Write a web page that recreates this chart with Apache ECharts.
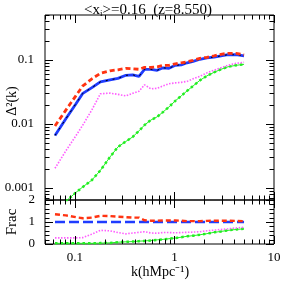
<!DOCTYPE html>
<html><head><meta charset="utf-8">
<script src="https://cdn.jsdelivr.net/npm/echarts@6/dist/echarts.min.js"></script>
<style>html,body{margin:0;padding:0;background:#fff}#c{width:289px;height:289px}</style>
</head><body><div id="c"></div>
<script>
const kVals = [0.063,0.081,0.102,0.12,0.148,0.18,0.225,0.27,0.325,0.38,0.44,0.5,0.58,0.67,0.77,0.88,1.02,1.17,1.34,1.54,1.8,2.12,2.5,2.93,3.45,4.15,5.0];
const blueP = [0.0066,0.0120,0.0205,0.030,0.0368,0.0453,0.0487,0.0514,0.0573,0.0583,0.0552,0.0711,0.0711,0.0686,0.075,0.0736,0.082,0.0835,0.0898,0.0948,0.102,0.107,0.110,0.1155,0.120,0.120,0.1155];
const redP = [0.0093,0.0164,0.0274,0.0392,0.0505,0.0615,0.0673,0.0698,0.0736,0.0723,0.0711,0.0763,0.0763,0.0778,0.082,0.082,0.0866,0.0898,0.093,0.098,0.1055,0.1094,0.1155,0.122,0.1264,0.1264,0.1197];
const magP = [0.00203,0.0038,0.0065,0.0096,0.0166,0.0295,0.0302,0.0289,0.0274,0.030,0.0323,0.0407,0.0352,0.0359,0.0392,0.0422,0.0437,0.0445,0.0461,0.0505,0.0552,0.0626,0.0686,0.075,0.082,0.0882,0.0914];
const greenP = [0.0002,0.00062,0.00085,0.00104,0.00133,0.00188,0.00305,0.00436,0.00533,0.00626,0.00778,0.0096,0.0115,0.0129,0.0154,0.0184,0.0229,0.0274,0.0328,0.0392,0.0478,0.0562,0.0638,0.0711,0.0778,0.082,0.085];
const blueF = [1,1,1,1,1,1,1,1,1,1,1,1,1,1,1,1,1,1,1,1,1,1,1,1,1,1,1];
const redF = [1.35,1.3,1.22,1.17,1.2,1.28,1.27,1.24,1.22,1.2,1.2,1.08,1.06,1.06,1.07,1.07,1.07,1.06,1.04,1.04,1.04,1.05,1.06,1.06,1.06,1.05,1.04];
const magF = [0.28,0.28,0.28,0.29,0.45,0.62,0.6,0.52,0.46,0.5,0.53,0.56,0.5,0.49,0.52,0.52,0.51,0.52,0.53,0.54,0.56,0.6,0.63,0.66,0.69,0.73,0.76];
const greenF = [0.03,0.03,0.03,0.03,0.03,0.04,0.05,0.08,0.1,0.11,0.13,0.14,0.16,0.19,0.21,0.24,0.27,0.31,0.35,0.38,0.42,0.47,0.53,0.57,0.62,0.66,0.69];

const X_MIN = 0.05, X_MAX = 10, Y_MIN = 0.00065, Y_MAX = 0.5;
const FONT = 'Liberation Serif';
const RED = '#ff3311', BLUE = '#1f3cff', MAG = '#ff5cff', GREEN = '#22ee22';

function pairs(xs, ys){ return xs.map((x,i)=>[x, ys[i]]); }
function isPow10(v){ const l = Math.log10(v); return Math.abs(l - Math.round(l)) < 1e-6; }
function fmt(v){ return isPow10(v) ? String(Number(v.toPrecision(6))) : ''; }

function logTicks(lo, hi){
  const out = [];
  for (let d = -5; d <= 2; d++) for (let m = 1; m <= 9; m++) {
    const v = Number((m * Math.pow(10, d)).toPrecision(6));
    if (v >= lo * 0.9999 && v <= hi * 1.0001) out.push([v, m === 1 ? 1 : 0]);
  }
  return out;
}
const xTicks = logTicks(X_MIN, X_MAX);
const yTicksMain = logTicks(Y_MIN, Y_MAX);
const mainTickData = xTicks.map(t => [t[0], Y_MIN, 0, t[1]]).concat(yTicksMain.map(t => [X_MIN, t[0], 1, t[1]]));
const fracTickData = xTicks.map(t => [t[0], 1, 0, t[1]]);
for (let i = 0; i <= 10; i++) { const v = i * 0.2; fracTickData.push([X_MIN, v, 1, (i % 5 === 0) ? 1 : 0]); }

function tickRender(params, api){
  const cs = params.coordSys;
  const isY = api.value(2) === 1;
  const major = api.value(3) === 1;
  const len = major ? 8 : 4.5;
  const p = api.coord([api.value(0), api.value(1)]);
  const st = {stroke:'#000', lineWidth:1};
  if (!isY) {
    const x = Math.round(p[0]) + 0.5, yb = cs.y + cs.height, yt = cs.y;
    return {type:'group', children:[
      {type:'line', shape:{x1:x, y1:yb, x2:x, y2:yb - len}, style:st},
      {type:'line', shape:{x1:x, y1:yt, x2:x, y2:yt + len}, style:st}
    ]};
  } else {
    const y = Math.round(p[1]) + 0.5, xl = cs.x, xr = cs.x + cs.width;
    return {type:'group', children:[
      {type:'line', shape:{x1:xl, y1:y, x2:xl + len, y2:y}, style:st},
      {type:'line', shape:{x1:xr, y1:y, x2:xr - len, y2:y}, style:st}
    ]};
  }
}

const chart = echarts.init(document.getElementById('c'), null, {renderer:'canvas'});
const lblStyle = {fontFamily: FONT, fontSize: 13, color: '#000'};
const option = {
  animation: false,
  backgroundColor: '#fff',
  grid: [
    {left: 45, right: 15, top: 15, height: 185, show: true, borderColor: '#000', borderWidth: 1, backgroundColor: 'transparent'},
    {left: 45, right: 15, top: 200, height: 44, show: true, borderColor: '#000', borderWidth: 1, backgroundColor: 'transparent'}
  ],
  xAxis: [
    {type:'log', logBase:10, min:X_MIN, max:X_MAX, gridIndex:0, axisLine:{show:false}, axisTick:{show:false}, splitLine:{show:false}, axisLabel:{show:false}},
    {type:'log', logBase:10, min:X_MIN, max:X_MAX, gridIndex:1, axisLine:{show:false}, axisTick:{show:false}, splitLine:{show:false},
     axisLabel:Object.assign({show:true, margin:7, formatter: fmt, showMinLabel:false, hideOverlap:false}, lblStyle)}
  ],
  yAxis: [
    {type:'log', logBase:10, min:Y_MIN, max:Y_MAX, gridIndex:0, axisLine:{show:false}, axisTick:{show:false}, splitLine:{show:false},
     axisLabel:Object.assign({show:true, margin:11, formatter: fmt, showMinLabel:false, showMaxLabel:false}, lblStyle)},
    {type:'value', min:0, max:2, interval:1, gridIndex:1, axisLine:{show:false}, axisTick:{show:false}, splitLine:{show:false},
     axisLabel:Object.assign({show:true, margin:10}, lblStyle)}
  ],
  title: {
    text: '<x{s|i}>=0.16  (z=8.550)', left: 143, textAlign: 'center', top: -3,
    textStyle: {fontFamily: FONT, fontSize: 15, fontWeight: 'normal', color: '#000',
      rich: {s: {fontFamily: FONT, fontSize: 9, verticalAlign: 'bottom', padding:[7,0,0,0]}}}
  },
  series: [
    {type:'custom', xAxisIndex:0, yAxisIndex:0, data: mainTickData, renderItem: tickRender, clip:false, silent:true, z:5},
    {type:'custom', xAxisIndex:1, yAxisIndex:1, data: fracTickData, renderItem: tickRender, clip:false, silent:true, z:5},
    {type:'line', xAxisIndex:0, yAxisIndex:0, data: pairs(kVals, greenP), symbol:'none', clip:true, lineStyle:{color:GREEN, width:1}, z:2},
    {type:'line', xAxisIndex:0, yAxisIndex:0, data: pairs(kVals, greenP), symbol:'none', clip:true, lineStyle:{color:GREEN, width:2.5, type:[2.5,3]}, z:2},
    {type:'line', xAxisIndex:0, yAxisIndex:0, data: pairs(kVals, magP), symbol:'none', clip:true, lineStyle:{color:MAG, width:1.6, type:[1.5,1.5]}, z:2},
    {type:'line', xAxisIndex:0, yAxisIndex:0, data: pairs(kVals, blueP), symbol:'none', clip:true, lineStyle:{color:BLUE, width:2.8}, z:3},
    {type:'line', xAxisIndex:0, yAxisIndex:0, data: pairs(kVals, blueP), symbol:'none', clip:true, lineStyle:{color:'#000', width:1, type:[2,5]}, z:3},
    {type:'line', xAxisIndex:0, yAxisIndex:0, data: pairs(kVals, redP), symbol:'none', clip:true, lineStyle:{color:RED, width:2.8, type:[5,3]}, z:4},
    {type:'line', xAxisIndex:1, yAxisIndex:1, data: pairs(kVals, greenF), symbol:'none', clip:true, lineStyle:{color:GREEN, width:1}, z:2},
    {type:'line', xAxisIndex:1, yAxisIndex:1, data: pairs(kVals, greenF), symbol:'none', clip:true, lineStyle:{color:GREEN, width:2.5, type:[2.5,3]}, z:2},
    {type:'line', xAxisIndex:1, yAxisIndex:1, data: pairs(kVals, magF), symbol:'none', clip:true, lineStyle:{color:MAG, width:1.6, type:[1.5,1.5]}, z:2},
    {type:'line', xAxisIndex:1, yAxisIndex:1, data: pairs(kVals, blueF), symbol:'none', clip:true, lineStyle:{color:BLUE, width:2.6, type:[10,4]}, z:3},
    {type:'line', xAxisIndex:1, yAxisIndex:1, data: pairs(kVals, redF), symbol:'none', clip:true, lineStyle:{color:RED, width:2.4, type:[5,3]}, z:4}
  ],
  graphic: [
    {type:'text', x:12, y:101, rotation:Math.PI/2, style:{text:'Δ²(k)', font:'14px "Liberation Serif"', fill:'#000', align:'center', verticalAlign:'middle'}},
    {type:'text', x:12, y:222, rotation:Math.PI/2, style:{text:'Frac', font:'15px "Liberation Serif"', fill:'#000', align:'center', verticalAlign:'middle'}},
    {type:'text', x:160, y:272, style:{text:'k(hMpc⁻¹)', font:'14px "Liberation Serif"', fill:'#000', align:'center', verticalAlign:'middle'}}
  ]
};
chart.setOption(option);
</script>
</body></html>
